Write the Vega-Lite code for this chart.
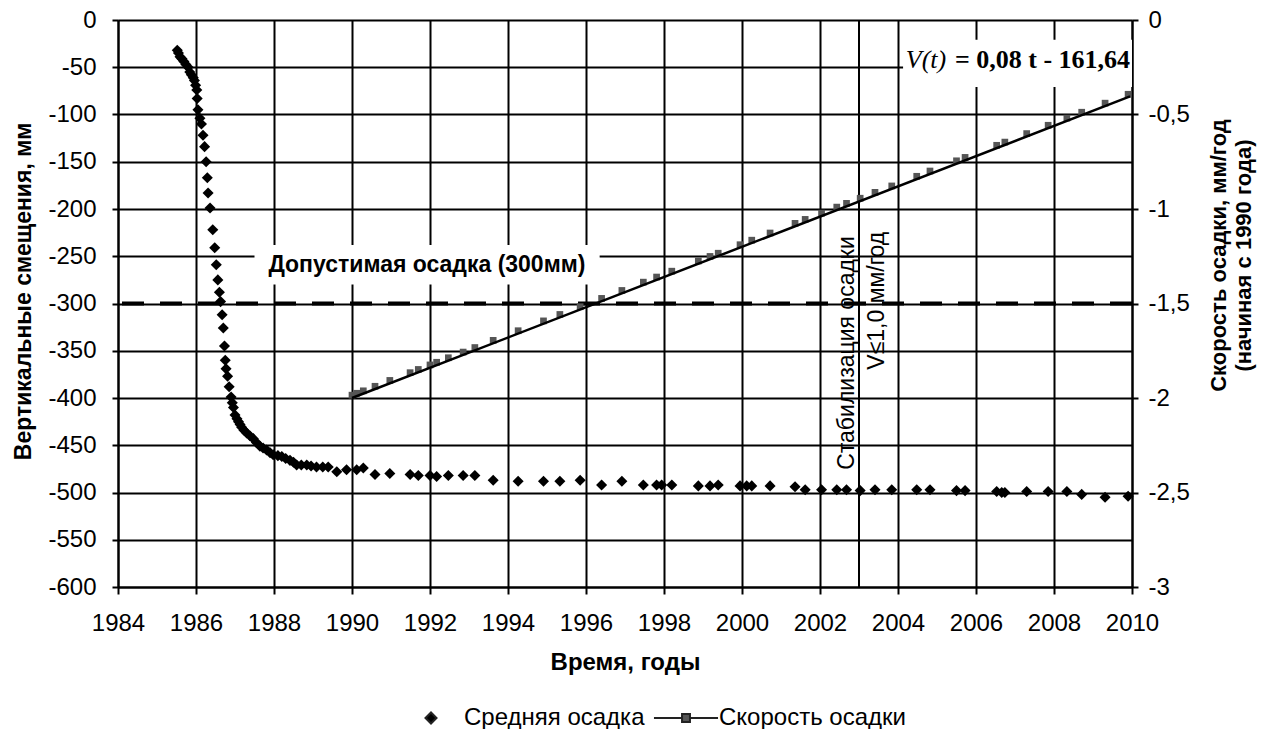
{
  "$schema": "https://vega.github.io/schema/vega-lite/v6.json",
  "width": 1014,
  "height": 567,
  "autosize": {"type": "none"},
  "padding": {"left": 118, "top": 20, "right": 136, "bottom": 142},
  "background": "white",
  "config": {
    "font": "Liberation Sans",
    "view": {"stroke": null},
    "axis": {
      "labelFont": "Liberation Sans",
      "titleFont": "Liberation Sans",
      "labelColor": "#000",
      "titleColor": "#000",
      "domainColor": "#000",
      "tickColor": "#000",
      "gridColor": "#000",
      "gridOpacity": 1,
      "domainWidth": 2,
      "tickWidth": 2,
      "gridWidth": 2,
      "labelFlush": false,
      "labelOverlap": false
    },
    "legend": {"labelFont": "Liberation Sans"}
  },
  "datasets": {
    "settle": [
      {"t": 1985.52, "v": -32}, {"t": 1985.55, "v": -35}, {"t": 1985.59, "v": -39}, {"t": 1985.64, "v": -41},
      {"t": 1985.69, "v": -44}, {"t": 1985.74, "v": -47}, {"t": 1985.8, "v": -50}, {"t": 1985.84, "v": -55},
      {"t": 1985.88, "v": -58}, {"t": 1985.93, "v": -61}, {"t": 1985.96, "v": -64}, {"t": 1985.99, "v": -69},
      {"t": 1986.02, "v": -74}, {"t": 1986.03, "v": -83}, {"t": 1986.05, "v": -95}, {"t": 1986.1, "v": -104},
      {"t": 1986.14, "v": -110}, {"t": 1986.18, "v": -122}, {"t": 1986.22, "v": -134}, {"t": 1986.26, "v": -150},
      {"t": 1986.29, "v": -167}, {"t": 1986.31, "v": -183}, {"t": 1986.36, "v": -199}, {"t": 1986.43, "v": -222},
      {"t": 1986.48, "v": -241}, {"t": 1986.52, "v": -259}, {"t": 1986.56, "v": -275}, {"t": 1986.6, "v": -288},
      {"t": 1986.63, "v": -298}, {"t": 1986.67, "v": -312}, {"t": 1986.7, "v": -326}, {"t": 1986.73, "v": -345},
      {"t": 1986.75, "v": -360}, {"t": 1986.77, "v": -369}, {"t": 1986.81, "v": -377}, {"t": 1986.85, "v": -388},
      {"t": 1986.9, "v": -399}, {"t": 1986.93, "v": -405}, {"t": 1986.96, "v": -410}, {"t": 1987.0, "v": -418},
      {"t": 1987.05, "v": -422}, {"t": 1987.09, "v": -425}, {"t": 1987.13, "v": -428}, {"t": 1987.17, "v": -431},
      {"t": 1987.23, "v": -434}, {"t": 1987.3, "v": -437}, {"t": 1987.38, "v": -440}, {"t": 1987.47, "v": -443},
      {"t": 1987.55, "v": -447}, {"t": 1987.64, "v": -451}, {"t": 1987.72, "v": -453}, {"t": 1987.81, "v": -455},
      {"t": 1987.9, "v": -458}, {"t": 1987.98, "v": -460}, {"t": 1988.1, "v": -461}, {"t": 1988.2, "v": -462},
      {"t": 1988.3, "v": -464}, {"t": 1988.41, "v": -466}, {"t": 1988.5, "v": -468}, {"t": 1988.58, "v": -471},
      {"t": 1988.7, "v": -471}, {"t": 1988.84, "v": -471}, {"t": 1988.95, "v": -472}, {"t": 1989.09, "v": -473},
      {"t": 1989.25, "v": -473}, {"t": 1989.39, "v": -473}, {"t": 1989.61, "v": -478}, {"t": 1989.86, "v": -476},
      {"t": 1990.12, "v": -476}, {"t": 1990.29, "v": -474}, {"t": 1990.59, "v": -481}, {"t": 1990.97, "v": -480},
      {"t": 1991.49, "v": -481}, {"t": 1991.7, "v": -482}, {"t": 1992.0, "v": -482}, {"t": 1992.17, "v": -483},
      {"t": 1992.47, "v": -482}, {"t": 1992.85, "v": -482}, {"t": 1993.15, "v": -482}, {"t": 1993.62, "v": -487},
      {"t": 1994.26, "v": -488}, {"t": 1994.91, "v": -488}, {"t": 1995.33, "v": -488}, {"t": 1995.85, "v": -487},
      {"t": 1996.4, "v": -492}, {"t": 1996.92, "v": -488}, {"t": 1997.47, "v": -492}, {"t": 1997.81, "v": -492},
      {"t": 1997.94, "v": -492}, {"t": 1998.2, "v": -492}, {"t": 1998.88, "v": -493}, {"t": 1999.18, "v": -493},
      {"t": 1999.39, "v": -492}, {"t": 1999.95, "v": -493}, {"t": 2000.12, "v": -493}, {"t": 2000.25, "v": -493},
      {"t": 2000.72, "v": -493}, {"t": 2001.36, "v": -494}, {"t": 2001.62, "v": -497}, {"t": 2002.04, "v": -497},
      {"t": 2002.43, "v": -497}, {"t": 2002.68, "v": -497}, {"t": 2003.03, "v": -498}, {"t": 2003.41, "v": -497},
      {"t": 2003.84, "v": -497}, {"t": 2004.48, "v": -497}, {"t": 2004.82, "v": -497}, {"t": 2005.5, "v": -498},
      {"t": 2005.72, "v": -498}, {"t": 2006.53, "v": -499}, {"t": 2006.66, "v": -500}, {"t": 2006.74, "v": -500},
      {"t": 2007.3, "v": -499}, {"t": 2007.85, "v": -499}, {"t": 2008.33, "v": -499}, {"t": 2008.71, "v": -502},
      {"t": 2009.31, "v": -505}, {"t": 2009.9, "v": -504}
    ],
    "speed": [
      {"t": 1990.0, "r": -1.985}, {"t": 1990.12, "r": -1.975}, {"t": 1990.29, "r": -1.962}, {"t": 1990.59, "r": -1.938},
      {"t": 1990.97, "r": -1.907}, {"t": 1991.49, "r": -1.866}, {"t": 1991.7, "r": -1.849}, {"t": 1992.0, "r": -1.825},
      {"t": 1992.17, "r": -1.811}, {"t": 1992.47, "r": -1.787}, {"t": 1992.85, "r": -1.757}, {"t": 1993.15, "r": -1.733},
      {"t": 1993.62, "r": -1.695}, {"t": 1994.26, "r": -1.644}, {"t": 1994.91, "r": -1.592}, {"t": 1995.33, "r": -1.558},
      {"t": 1995.85, "r": -1.517}, {"t": 1996.4, "r": -1.473}, {"t": 1996.92, "r": -1.431}, {"t": 1997.47, "r": -1.387},
      {"t": 1997.81, "r": -1.36}, {"t": 1998.2, "r": -1.329}, {"t": 1998.88, "r": -1.275}, {"t": 1999.18, "r": -1.251},
      {"t": 1999.39, "r": -1.234}, {"t": 1999.95, "r": -1.189}, {"t": 2000.25, "r": -1.165}, {"t": 2000.72, "r": -1.127},
      {"t": 2001.36, "r": -1.076}, {"t": 2001.62, "r": -1.055}, {"t": 2002.04, "r": -1.022}, {"t": 2002.43, "r": -0.99},
      {"t": 2002.68, "r": -0.97}, {"t": 2003.03, "r": -0.943}, {"t": 2003.41, "r": -0.912}, {"t": 2003.84, "r": -0.878},
      {"t": 2004.48, "r": -0.827}, {"t": 2004.82, "r": -0.799}, {"t": 2005.5, "r": -0.745}, {"t": 2005.72, "r": -0.727},
      {"t": 2006.53, "r": -0.663}, {"t": 2006.74, "r": -0.646}, {"t": 2007.3, "r": -0.601}, {"t": 2007.85, "r": -0.557},
      {"t": 2008.33, "r": -0.519}, {"t": 2008.71, "r": -0.488}, {"t": 2009.31, "r": -0.44}, {"t": 2009.9, "r": -0.393}
    ],
    "trend": [{"t": 1990.0, "r": -2.0}, {"t": 2009.95, "r": -0.404}],
    "boxes": [
      {"x1": 1987.5, "x2": 1996.35, "y1": -238, "y2": -280},
      {"x1": 2004.13, "x2": 2010, "y1": -21, "y2": -71}
    ],
    "limit": [{"v": -300, "label": "Допустимая осадка (300мм)", "t": 1991.92, "ly": -259}],
    "stab": [{"t": 2003}],
    "notes": [
      {"t": 2002.7, "v": -476, "text": "Стабилизация осадки"},
      {"t": 2003.45, "v": -370, "text": "V≤1,0 мм/год"}
    ],
    "eq": [{"t1": 2004.2, "t2": 2009.95, "v": -42, "a": "V(t)", "b": "=  0,08 t - 161,64"}]
  },
  "layer": [
    {
      "layer": [
        {
          "data": {"name": "boxes"},
          "mark": {"type": "rect", "fill": "white"},
          "encoding": {
            "x": {
              "field": "x1", "type": "quantitative",
              "scale": {"domain": [1984, 2010], "nice": false, "zero": false},
              "axis": {
                "orient": "bottom",
                "values": [1984, 1986, 1988, 1990, 1992, 1994, 1996, 1998, 2000, 2002, 2004, 2006, 2008, 2010],
                "format": "d", "grid": false, "tickSize": 7,
                "labelFontSize": 24, "labelPadding": 17,
                "title": "Время, годы", "titleFontSize": 24, "titleFontWeight": "bold", "titlePadding": 15
              }
            },
            "x2": {"field": "x2"},
            "y": {
              "field": "y1", "type": "quantitative",
              "scale": {"domain": [-600, 0], "nice": false, "zero": false},
              "axis": {
                "orient": "left",
                "values": [-600, -550, -500, -450, -400, -350, -300, -250, -200, -150, -100, -50, 0],
                "labelExpr": "replace(format(datum.value, 'd'), '−', '-')",
                "grid": true, "tickSize": 6, "labelFontSize": 24, "labelPadding": 16,
                "title": "Вертикальные смещения, мм", "titleFontSize": 23, "titleFontWeight": "bold",
                "titlePadding": 12, "titleY": 271
              }
            },
            "y2": {"field": "y2"}
          }
        },
        {
          "data": {"name": "limit"},
          "mark": {"type": "rule", "color": "#000", "strokeWidth": 4, "strokeDash": [22, 16]},
          "encoding": {"y": {"field": "v", "type": "quantitative"}}
        },
        {
          "data": {"name": "limit"},
          "mark": {"type": "text", "fontWeight": "bold", "fontSize": 23, "align": "center", "baseline": "middle", "color": "#000"},
          "encoding": {
            "x": {"field": "t", "type": "quantitative"},
            "y": {"field": "ly", "type": "quantitative"},
            "text": {"field": "label"}
          }
        },
        {
          "data": {"name": "stab"},
          "mark": {"type": "rule", "color": "#000", "strokeWidth": 2},
          "encoding": {"x": {"field": "t", "type": "quantitative"}}
        },
        {
          "data": {"name": "notes"},
          "mark": {"type": "text", "angle": 270, "align": "left", "baseline": "middle", "fontSize": 23, "color": "#000"},
          "encoding": {
            "x": {"field": "t", "type": "quantitative"},
            "y": {"field": "v", "type": "quantitative"},
            "text": {"field": "text"}
          }
        },
        {
          "data": {"name": "eq"},
          "mark": {"type": "text", "font": "Liberation Serif", "fontStyle": "italic", "fontSize": 26, "align": "left", "baseline": "middle", "color": "#000"},
          "encoding": {
            "x": {"field": "t1", "type": "quantitative"},
            "y": {"field": "v", "type": "quantitative"},
            "text": {"field": "a"}
          }
        },
        {
          "data": {"name": "eq"},
          "mark": {"type": "text", "font": "Liberation Serif", "fontWeight": "bold", "fontSize": 26, "align": "right", "baseline": "middle", "color": "#000"},
          "encoding": {
            "x": {"field": "t2", "type": "quantitative"},
            "y": {"field": "v", "type": "quantitative"},
            "text": {"field": "b"}
          }
        },
        {
          "data": {"name": "settle"},
          "transform": [{"calculate": "'Средняя осадка'", "as": "s"}],
          "mark": {"type": "point", "filled": true, "opacity": 1, "size": 576},
          "encoding": {
            "x": {"field": "t", "type": "quantitative"},
            "y": {"field": "v", "type": "quantitative"},
            "color": {
              "field": "s", "type": "nominal",
              "scale": {"domain": ["Средняя осадка", "Скорость осадки"], "range": ["#000000", "#555555"]},
              "legend": {
                "orient": "none", "legendX": 300, "legendY": 685,
                "direction": "horizontal", "title": null,
                "labelFontSize": 24, "labelLimit": 0, "symbolStrokeWidth": 2, "symbolStrokeColor": "#222", "symbolSize": 576,
                "labelOffset": 20, "columnPadding": 4
              }
            },
            "shape": {
              "field": "s", "type": "nominal",
              "scale": {"domain": ["Средняя осадка", "Скорость осадки"], "range": ["M-0.46,0L0,-0.46L0.46,0L0,0.46Z", "M-2.67,0H-0.33M0.33,0H2.67M-0.33,-0.33H0.33V0.33H-0.33Z"]}
            }
          }
        }
      ]
    },
    {
      "layer": [
        {
          "data": {"name": "speed"},
          "mark": {"type": "point", "shape": "square", "filled": true, "color": "#555555", "size": 45, "opacity": 1},
          "encoding": {
            "x": {
              "field": "t", "type": "quantitative",
              "axis": {
                "orient": "top",
                "values": [1984, 1985, 1986, 1987, 1988, 1989, 1990, 1991, 1992, 1993, 1994, 1995, 1996, 1997, 1998, 1999, 2000, 2001, 2002, 2003, 2004, 2005, 2006, 2007, 2008, 2009, 2010],
                "grid": true, "labels": false, "ticks": false, "domain": false, "title": null
              }
            },
            "y": {
              "field": "r", "type": "quantitative",
              "scale": {"domain": [-3, 0], "nice": false, "zero": false},
              "axis": {
                "orient": "right",
                "values": [-3, -2.5, -2, -1.5, -1, -0.5, 0],
                "labelExpr": "replace(replace(format(datum.value, '~g'), '.', ','), '−', '-')",
                "grid": false, "tickSize": 6, "labelFontSize": 24, "labelPadding": 10,
                "title": ["Скорость осадки, мм/год", "(начиная с 1990 года)"],
                "titleFontSize": 22, "titleFontWeight": "bold", "titleAngle": 270, "titleBaseline": "top",
                "titlePadding": -6, "titleY": 235, "titleLineHeight": 25
              }
            }
          }
        },
        {
          "data": {"name": "trend"},
          "mark": {"type": "line", "color": "#000", "strokeWidth": 2.5},
          "encoding": {
            "x": {"field": "t", "type": "quantitative"},
            "y": {"field": "r", "type": "quantitative"}
          }
        }
      ]
    }
  ],
  "resolve": {"scale": {"y": "independent"}, "axis": {"y": "independent", "x": "independent"}}
}
